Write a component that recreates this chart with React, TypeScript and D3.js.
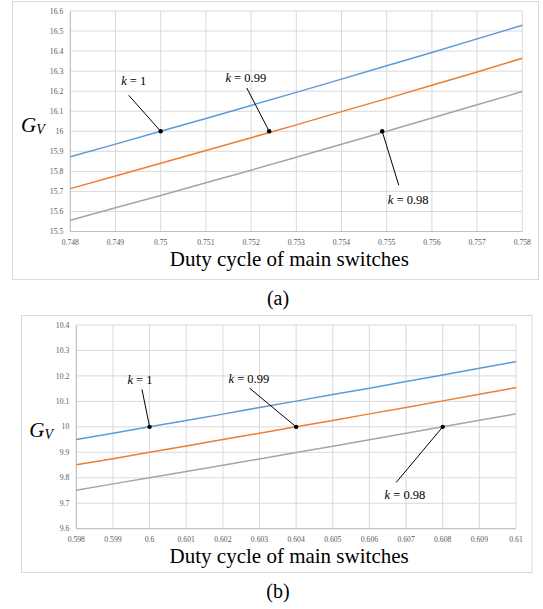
import React from "react";
import * as d3 from "d3";

// Panel (a): duty cycle around 0.75
const dutyA = [0.748, 0.749, 0.75, 0.751, 0.752, 0.753, 0.754, 0.755, 0.756, 0.757, 0.758];
const gainA_k100 = [15.873, 15.936, 16.0, 16.064, 16.129, 16.194, 16.26, 16.327, 16.393, 16.461, 16.529];
const gainA_k099 = [15.714, 15.777, 15.84, 15.904, 15.968, 16.032, 16.098, 16.163, 16.23, 16.296, 16.364];
const gainA_k098 = [15.556, 15.618, 15.68, 15.743, 15.806, 15.87, 15.935, 16.0, 16.066, 16.132, 16.198];
const yTicksA = [15.5, 15.6, 15.7, 15.8, 15.9, 16, 16.1, 16.2, 16.3, 16.4, 16.5, 16.6];
const markA_duty = [0.75, 0.7524, 0.7549];
const markA_gain = [16, 16, 16];

// Panel (b): duty cycle around 0.6
const dutyB = [0.598, 0.599, 0.6, 0.601, 0.602, 0.603, 0.604, 0.605, 0.606, 0.607, 0.608, 0.609, 0.61];
const gainB_k100 = [9.95, 9.975, 10.0, 10.025, 10.05, 10.076, 10.101, 10.127, 10.152, 10.178, 10.204, 10.23, 10.256];
const gainB_k099 = [9.851, 9.875, 9.9, 9.925, 9.95, 9.975, 10.0, 10.025, 10.051, 10.076, 10.102, 10.128, 10.154];
const gainB_k098 = [9.751, 9.776, 9.8, 9.825, 9.849, 9.874, 9.899, 9.924, 9.949, 9.975, 10.0, 10.026, 10.051];
const yTicksB = [9.6, 9.7, 9.8, 9.9, 10, 10.1, 10.2, 10.3, 10.4];
const markB_duty = [0.6, 0.604, 0.608];
const markB_gain = [10, 10, 10];

const kLabels = ["1", "0.99", "0.98"];
const seriesColors = ["#5B9BD5", "#ED7D31", "#A5A5A5"];

const SERIF = "'Liberation Serif', 'Times New Roman', serif";
const GRID = "#d9d9d9";
const TICK_TEXT = "#595959";

type Panel = {
  duty: number[];
  gains: number[][];
  yTicks: number[];
  markDuty: number[];
  markGain: number[];
  box: [number, number, number, number];
  plot: [number, number, number, number];
  gv: [number, number];
  leaders: { from: [number, number]; text: [number, number] }[];
  caption: string;
};

const panels: Panel[] = [
  {
    duty: dutyA,
    gains: [gainA_k100, gainA_k099, gainA_k098],
    yTicks: yTicksA,
    markDuty: markA_duty,
    markGain: markA_gain,
    box: [12.5, 1.5, 538.5, 279.5],
    plot: [70.3, 11, 522.3, 231.5],
    gv: [21, 132],
    leaders: [
      { from: [-32, -36], text: [-27, -46] },
      { from: [-22.4, -43.3], text: [-23.4, -49.3] },
      { from: [16.6, 54], text: [26, 73] },
    ],
    caption: "(a)",
  },
  {
    duty: dutyB,
    gains: [gainB_k100, gainB_k099, gainB_k098],
    yTicks: yTicksB,
    markDuty: markB_duty,
    markGain: markB_gain,
    box: [21.5, 315.5, 532, 572.5],
    plot: [76.3, 325, 516, 528.7],
    gv: [29.3, 437],
    leaders: [
      { from: [-7.6, -37.4], text: [-9.6, -42.4] },
      { from: [-46.7, -38.7], text: [-47.3, -43.7] },
      { from: [-46.6, 55.7], text: [-37.8, 72.3] },
    ],
    caption: "(b)",
  },
];

function ChartPanel({ p }: { p: Panel }) {
  const [x0, y0, x1, y1] = p.plot;
  const x = d3.scaleLinear().domain([p.duty[0], p.duty[p.duty.length - 1]]).range([x0, x1]);
  const y = d3.scaleLinear().domain([p.yTicks[0], p.yTicks[p.yTicks.length - 1]]).range([y1, y0]);
  const line = d3
    .line<[number, number]>()
    .x((d) => x(d[0]))
    .y((d) => y(d[1]));
  const fmt = d3.format("");
  const [bx0, by0, bx1, by1] = p.box;
  const cx = (x0 + x1) / 2;

  return (
    <g>
      <rect x={bx0} y={by0} width={bx1 - bx0} height={by1 - by0} fill="#fff" stroke={GRID} strokeWidth={1} />
      {p.yTicks.map((t) => (
        <g key={"y" + t}>
          <line x1={x0} x2={x1} y1={y(t)} y2={y(t)} stroke={GRID} strokeWidth={1} />
          <text x={x0 - 7} y={y(t) + 2.6} textAnchor="end" fontSize={7.7} fill={TICK_TEXT} fontFamily={SERIF}>
            {fmt(t)}
          </text>
        </g>
      ))}
      {p.duty.map((t) => (
        <g key={"x" + t}>
          <line x1={x(t)} x2={x(t)} y1={y0} y2={y1} stroke={GRID} strokeWidth={1} />
          <text x={x(t)} y={y1 + 13.5} textAnchor="middle" fontSize={7.7} fill={TICK_TEXT} fontFamily={SERIF}>
            {fmt(t)}
          </text>
        </g>
      ))}
      <line x1={x0} x2={x0} y1={y0} y2={y1} stroke="#bfbfbf" strokeWidth={1} />
      <line x1={x0} x2={x1} y1={y1} y2={y1} stroke="#bfbfbf" strokeWidth={1} />
      {p.gains.map((g, i) => (
        <path
          key={"s" + i}
          d={line(p.duty.map((d, j) => [d, g[j]] as [number, number])) || ""}
          fill="none"
          stroke={seriesColors[i]}
          strokeWidth={1.5}
        />
      ))}
      {p.markDuty.map((d, i) => {
        const px = x(d);
        const py = y(p.markGain[i]);
        const L = p.leaders[i];
        return (
          <g key={"m" + i}>
            <line x1={px} y1={py} x2={px + L.from[0]} y2={py + L.from[1]} stroke="#000" strokeWidth={1} />
            <circle cx={px} cy={py} r={2.2} fill="#000" />
            <text
              x={px + L.text[0]}
              y={py + L.text[1]}
              textAnchor="middle"
              fontSize={12.5}
              fontFamily={SERIF}
              fill="#000"
            >
              <tspan fontStyle="italic">k</tspan>
              {" = " + kLabels[i]}
            </text>
          </g>
        );
      })}
      <text x={p.gv[0]} y={p.gv[1]} fontFamily={SERIF} fill="#000">
        <tspan fontSize={21} fontStyle="italic">G</tspan>
        <tspan fontSize={14} fontStyle="italic" dy={1.5}>V</tspan>
      </text>
      <text x={cx - 7} y={y1 + 34} textAnchor="middle" fontSize={21} fontFamily={SERIF} fill="#000">
        Duty cycle of main switches
      </text>
      <text x={278} y={by1 + 25} textAnchor="middle" fontSize={20} fontFamily={SERIF} fill="#000">
        {p.caption}
      </text>
    </g>
  );
}

export default function App() {
  return (
    <svg
      width={543}
      height={609}
      viewBox="0 0 543 609"
      style={{ position: "absolute", left: 0, top: 0, background: "#fff" }}
    >
      <rect x={0} y={0} width={543} height={609} fill="#fff" />
      {panels.map((p, i) => (
        <ChartPanel key={i} p={p} />
      ))}
    </svg>
  );
}
